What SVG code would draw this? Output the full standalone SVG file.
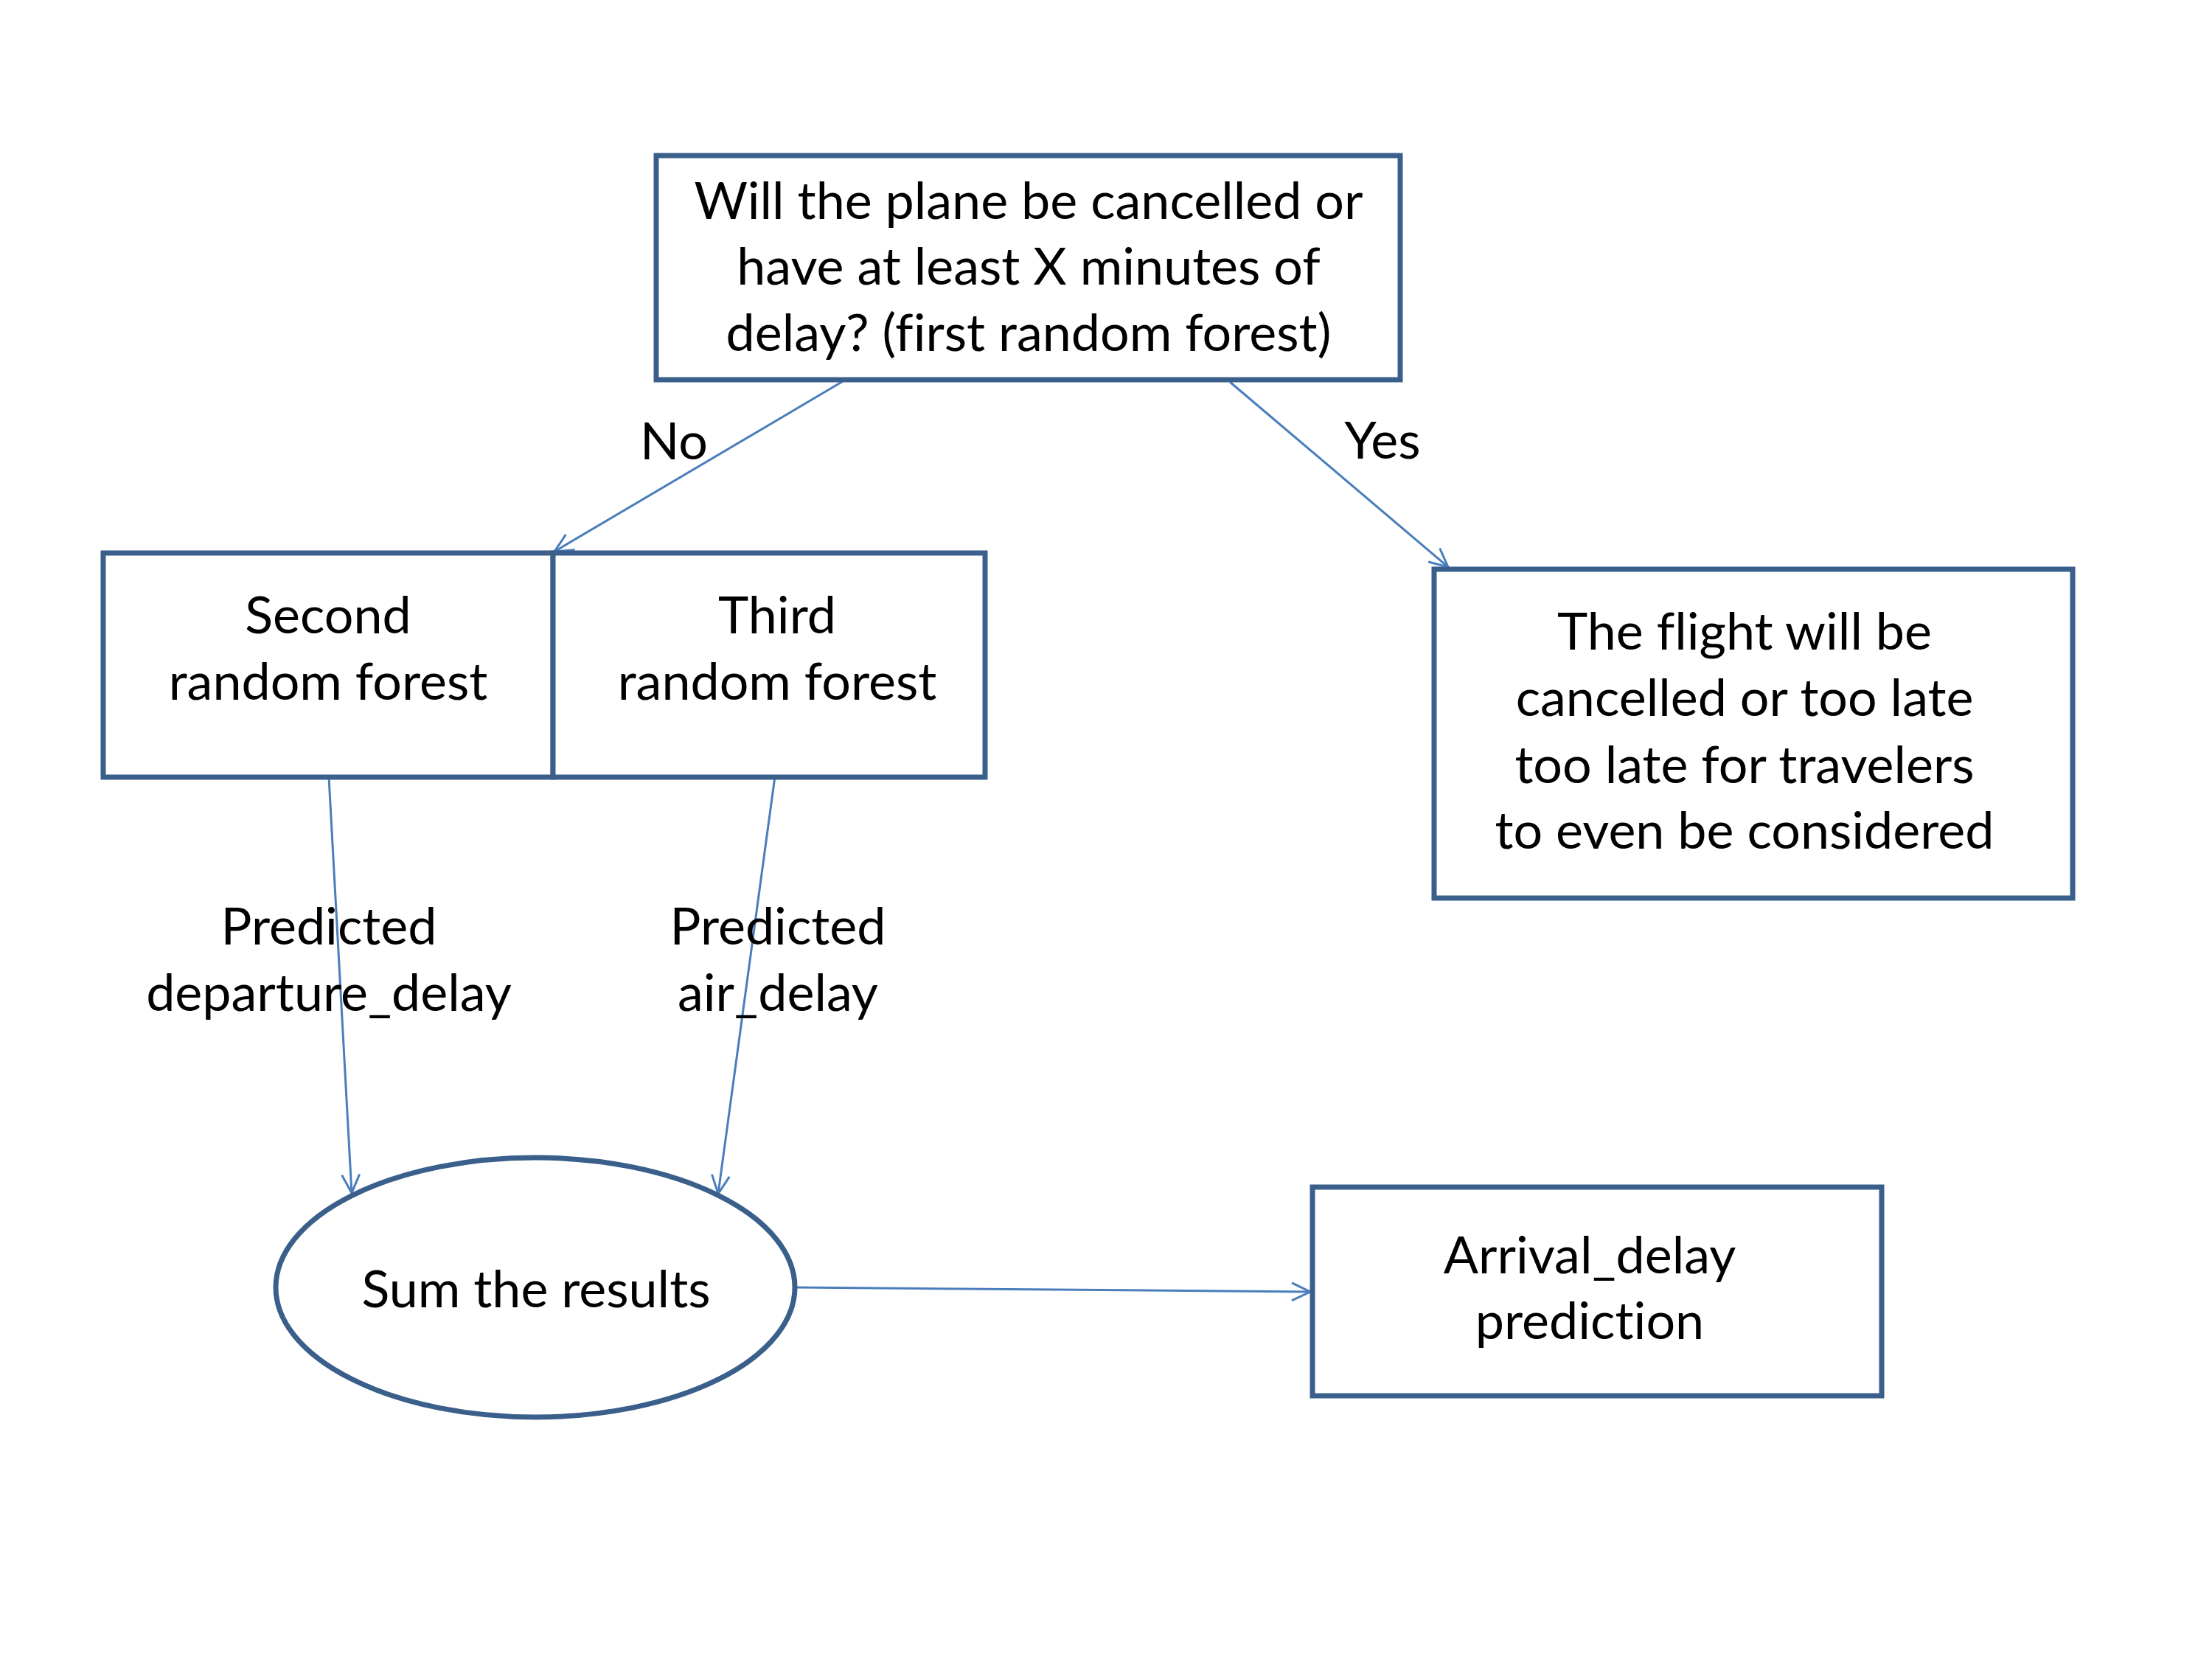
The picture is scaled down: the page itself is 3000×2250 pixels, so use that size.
<svg xmlns="http://www.w3.org/2000/svg" width="3000" height="2250" viewBox="0 0 3000 2250">
<defs>
<style>
.box{fill:#ffffff;stroke:#3A5F8B;stroke-width:7}
.conn{stroke:#4A7EBB;stroke-width:3;fill:none}
.t{font-family:Lato,"Open Sans","Liberation Sans",sans-serif;font-size:70px;fill:#000000;text-anchor:middle;font-variant-ligatures:none}
</style>
<marker id="arr" markerUnits="userSpaceOnUse" markerWidth="60" markerHeight="60" viewBox="-30 -30 60 60" refX="0" refY="0" orient="auto">
<path d="M -25 -12 L 0 0 L -25 12" fill="none" stroke="#4A7EBB" stroke-width="3"/>
</marker>
</defs>
<rect width="3000" height="2250" fill="#ffffff"/>
<g id="connectors">
<line class="conn" x1="1145" y1="516" x2="752" y2="748" marker-end="url(#arr)"/>
<line class="conn" x1="1668" y1="518" x2="1964" y2="769" marker-end="url(#arr)"/>
<line class="conn" x1="446" y1="1054" x2="477" y2="1618" marker-end="url(#arr)"/>
<line class="conn" x1="1054" y1="1031" x2="974" y2="1619" marker-end="url(#arr)"/>
<line class="conn" x1="1079" y1="1746" x2="1777" y2="1752" marker-end="url(#arr)"/>
</g>
<g id="node-question">
<rect class="box" x="890" y="211" width="1009" height="304"/>
<text class="t" x="1395" y="297">Will the plane be cancelled or</text>
<text class="t" x="1395" y="386">have at least X minutes of</text>
<text class="t" x="1395" y="476">delay? (first random forest)</text>
</g>
<g id="node-second">
<rect class="box" x="140" y="750" width="610" height="304"/>
<text class="t" x="445" y="859">Second</text>
<text class="t" x="445" y="949">random forest</text>
</g>
<g id="node-third">
<rect class="box" x="750" y="750" width="586" height="304"/>
<text class="t" x="1054" y="859">Third</text>
<text class="t" x="1054" y="949">random forest</text>
</g>
<g id="node-cancelled">
<rect class="box" x="1945" y="772" width="866" height="446"/>
<text class="t" x="2366" y="881">The flight will be</text>
<text class="t" x="2366" y="971">cancelled or too late</text>
<text class="t" x="2366" y="1062">too late for travelers</text>
<text class="t" x="2366" y="1151">to even be considered</text>
</g>
<g id="node-sum">
<ellipse class="box" cx="726" cy="1746" rx="352" ry="176"/>
<text class="t" x="727" y="1773">Sum the results</text>
</g>
<g id="node-arrival">
<rect class="box" x="1780" y="1610" width="772" height="283"/>
<text class="t" x="2156" y="1727">Arrival_delay</text>
<text class="t" x="2156" y="1816">prediction</text>
</g>
<g id="labels">
<text class="t" x="914" y="623">No</text>
<text class="t" x="1875" y="622">Yes</text>
<text class="t" x="446" y="1281">Predicted</text>
<text class="t" x="446" y="1371">departure_delay</text>
<text class="t" x="1055" y="1281">Predicted</text>
<text class="t" x="1055" y="1371">air_delay</text>
</g>
</svg>
